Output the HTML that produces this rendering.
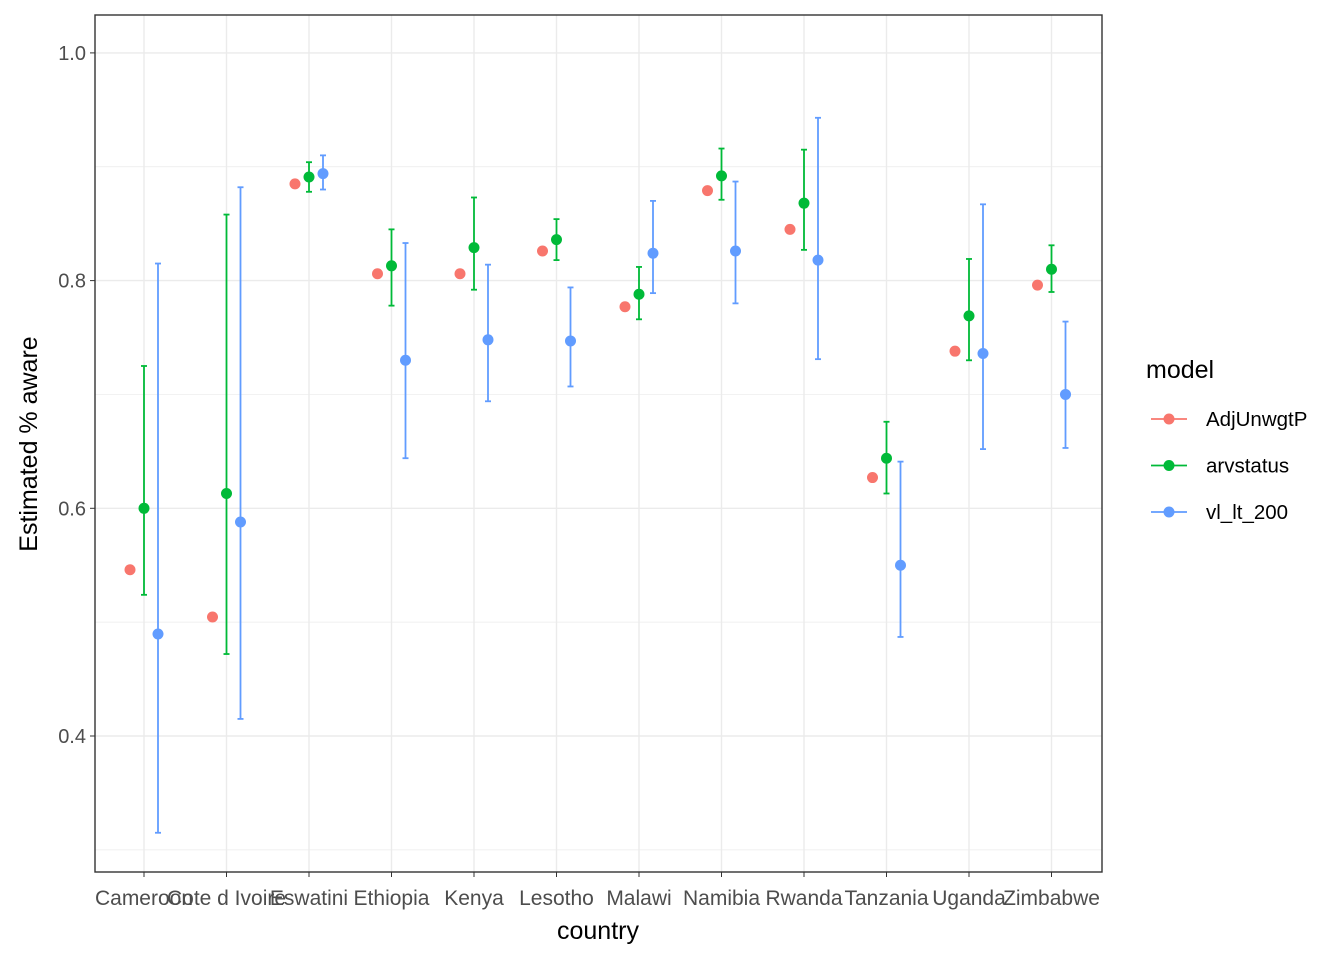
<!DOCTYPE html>
<html><head><meta charset="utf-8"><style>
body{margin:0;background:#fff;}
svg{display:block;font-family:"Liberation Sans",Arial,sans-serif;}
</style></head><body>
<svg id="c" width="1344" height="960"></svg>
<script>
const countries=["Cameroon","Cote d Ivoire","Eswatini","Ethiopia","Kenya","Lesotho","Malawi","Namibia","Rwanda","Tanzania","Uganda","Zimbabwe"];
const adjVals=[0.546,0.5045,0.885,0.806,0.806,0.826,0.777,0.879,0.845,0.627,0.738,0.796];
const arvVals=[0.600,0.613,0.891,0.813,0.829,0.836,0.788,0.892,0.868,0.644,0.769,0.810];
const arvLo=[0.524,0.472,0.878,0.778,0.792,0.818,0.766,0.871,0.827,0.613,0.730,0.790];
const arvHi=[0.725,0.858,0.904,0.845,0.873,0.854,0.812,0.916,0.915,0.676,0.819,0.831];
const vlVals=[0.4896,0.588,0.894,0.730,0.748,0.747,0.824,0.826,0.818,0.550,0.736,0.700];
const vlLo=[0.315,0.415,0.880,0.644,0.694,0.707,0.789,0.780,0.731,0.487,0.652,0.653];
const vlHi=[0.815,0.882,0.910,0.833,0.814,0.794,0.870,0.887,0.943,0.641,0.867,0.764];
const yTicks=[0.4,0.6,0.8,1.0];
const yMinor=[0.3,0.5,0.7,0.9];
const seriesNames=["AdjUnwgtP","arvstatus","vl_lt_200"];
const colors=["#F8766D","#00BA38","#619CFF"];

const svg=document.getElementById('c');
const NS="http://www.w3.org/2000/svg";
const L=95,R=1102,T=15,B=872;
const y=v=>736-(v-0.4)*1138.5;
const x=i=>144+i*82.5;
function el(t,a,p){const e=document.createElementNS(NS,t);for(const k in a)e.setAttribute(k,a[k]);(p||svg).appendChild(e);return e;}
const bg=el('rect',{x:L,y:T,width:R-L,height:B-T,fill:'#fff'});


yMinor.forEach(v=>{const g=el('line',{x1:L,x2:R,y1:y(v),y2:y(v),stroke:'#ebebeb','stroke-width':0.7});

});
yTicks.forEach(v=>{const g=el('line',{x1:L,x2:R,y1:y(v),y2:y(v),stroke:'#ebebeb','stroke-width':1.4});


el('line',{x1:L-5,x2:L,y1:y(v),y2:y(v),stroke:'#333','stroke-width':1});
const t=el('text',{x:L-9,y:y(v)+7,'text-anchor':'end','font-size':20,fill:'#4d4d4d'});t.textContent=v.toFixed(1);

});
countries.forEach((c,i)=>{const g=el('line',{x1:x(i),x2:x(i),y1:T,y2:B,stroke:'#ebebeb','stroke-width':1.4});


el('line',{x1:x(i),x2:x(i),y1:B,y2:B+5,stroke:'#333','stroke-width':1});
const t=el('text',{x:x(i),y:905,'text-anchor':'middle','font-size':21,fill:'#4d4d4d'});t.textContent=c;

});
const off=[-14,0,14];
function bar(i,s,lo,hi){const cx=x(i)+off[s];const g=el('g',{stroke:colors[s],'stroke-width':1.8});


el('line',{x1:cx,x2:cx,y1:y(lo),y2:y(hi)},g);
el('line',{x1:cx-3,x2:cx+3,y1:y(lo),y2:y(lo)},g);
el('line',{x1:cx-3,x2:cx+3,y1:y(hi),y2:y(hi)},g);}
function pt(i,s,v){const p=el('circle',{cx:x(i)+off[s],cy:y(v),r:5.5,fill:colors[s]});

}
countries.forEach((c,i)=>{bar(i,1,arvLo[i],arvHi[i]);bar(i,2,vlLo[i],vlHi[i]);pt(i,0,adjVals[i]);pt(i,1,arvVals[i]);pt(i,2,vlVals[i]);});
const fr=el('rect',{x:L,y:T,width:R-L,height:B-T,fill:'none',stroke:'#333','stroke-width':1.4});


const xt=el('text',{x:598,y:939,'text-anchor':'middle','font-size':25,fill:'#000'});xt.textContent='country';


const yt=el('text',{x:0,y:0,'text-anchor':'middle','font-size':25,fill:'#000',transform:'translate(37,444) rotate(-90)'});yt.textContent='Estimated % aware';


const lt=el('text',{x:1146,y:378,'font-size':25,fill:'#000'});lt.textContent='model';


seriesNames.forEach((n,s)=>{const ly=419+s*46.5;const g=el('g',{});


el('line',{x1:1151,x2:1187,y1:ly,y2:ly,stroke:colors[s],'stroke-width':1.8},g);
el('circle',{cx:1169,cy:ly,r:5.5,fill:colors[s]},g);
const t=el('text',{x:1206,y:ly+7,'font-size':20.5,fill:'#000'},g);t.textContent=n;});
</script>
</body></html>
